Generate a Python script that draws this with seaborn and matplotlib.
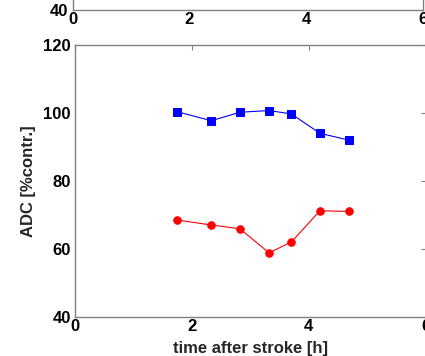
import matplotlib
matplotlib.use("Agg")
import matplotlib.pyplot as plt
import seaborn as sns
import pandas as pd

# data
time_h = [1.74, 2.33, 2.82, 3.32, 3.70, 4.19, 4.68]
adc_blue = [100.4, 97.7, 100.2, 100.7, 99.7, 94.0, 92.0]
adc_red = [68.5, 67.0, 65.9, 58.8, 62.0, 71.2, 71.0]
x_ticks = [0, 2, 4, 6]
y_ticks = [40, 60, 80, 100, 120]

sns.set_theme(style="white")
plt.rcParams['font.family'] = ['Liberation Sans', 'DejaVu Sans']
plt.rcParams['font.weight'] = 'bold'

fig = plt.figure(figsize=(4.25, 3.56), dpi=100)

spine_col = '#808080'

def style_axes(ax):
    for s in ax.spines.values():
        s.set_color(spine_col)
        s.set_linewidth(1.0)
        s.set_visible(True)
    ax.tick_params(direction='in', length=3.5, width=0.8, color=spine_col,
                   top=True, right=True, labelsize=12, labelcolor='black')
    ax.tick_params(axis='x', pad=1.5)
    ax.tick_params(axis='y', pad=3)
    for lab in ax.get_xticklabels() + ax.get_yticklabels():
        lab.set_fontweight('bold')

# remnant of upper axes
ax0 = fig.add_axes([72.5 / 425, (356 - 10) / 356, (423 - 72.5) / 425, 272 / 356])
ax0.set_xlim(0, 6)
ax0.set_ylim(40, 120)
ax0.set_xticks(x_ticks)
ax0.set_yticks(y_ticks)
ax0.set_facecolor('white')
style_axes(ax0)

# main axes
ax = fig.add_axes([75 / 425, (356 - 316.7) / 356, (425.8 - 75) / 425, 271.7 / 356])
df_b = pd.DataFrame({'t': time_h, 'adc': adc_blue})
df_r = pd.DataFrame({'t': time_h, 'adc': adc_red})
sns.lineplot(data=df_b, x='t', y='adc', ax=ax, color=(0, 0, 1), marker='s',
             markersize=5.8, markeredgecolor=(0, 0, 1), linewidth=0.8, sort=False)
sns.lineplot(data=df_r, x='t', y='adc', ax=ax, color=(1, 0, 0), marker='o',
             markersize=5.4, markeredgecolor=(1, 0, 0), linewidth=0.8, sort=False)
ax.set_xlim(0, 6)
ax.set_ylim(40, 120)
ax.set_xticks(x_ticks)
ax.set_yticks(y_ticks)
ax.set_xlabel('time after stroke [h]', fontsize=12, fontweight='bold', labelpad=5)
ax.set_ylabel('ADC [%contr.]', fontsize=12, fontweight='bold', labelpad=5)
style_axes(ax)

fig.savefig('out.png', dpi=100)
